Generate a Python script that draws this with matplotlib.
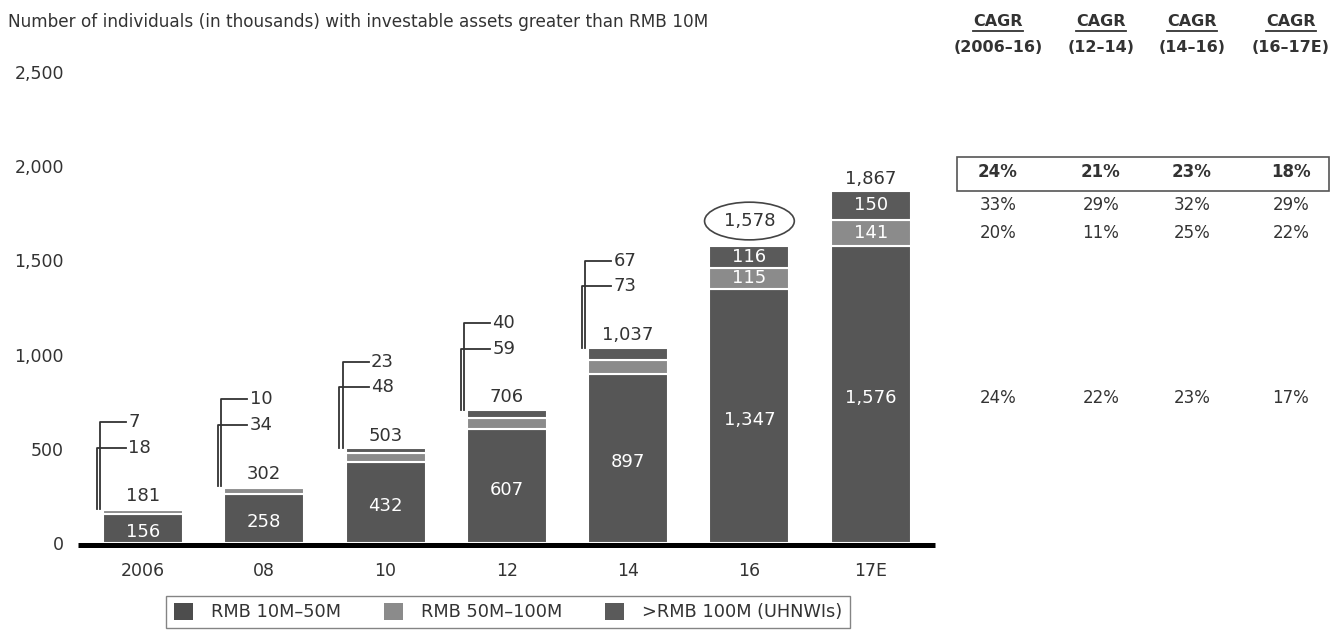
import matplotlib.pyplot as plt
from matplotlib.patches import Ellipse, Patch, Rectangle
from matplotlib.lines import Line2D
import matplotlib.transforms as mtransforms

plt.rcParams['font.family'] = ['DejaVu Sans']

years = ['2006', '08', '10', '12', '14', '16', '17E']
rmb_10_50 = [156, 258, 432, 607, 897, 1347, 1576]
rmb_50_100 = [18, 34, 48, 59, 73, 115, 141]
rmb_100_plus = [7, 10, 23, 40, 67, 116, 150]
totals = [181, 302, 503, 706, 1037, 1578, 1867]

cagr_headers = ['(2006\u201316)', '(12\u201314)', '(14\u201316)', '(16\u201317E)']
cagr_total = ['24%', '21%', '23%', '18%']
cagr_100_plus = ['33%', '29%', '32%', '29%']
cagr_50_100 = ['20%', '11%', '25%', '22%']
cagr_10_50 = ['24%', '22%', '23%', '17%']

legend_labels = ['RMB 10M\u201350M', 'RMB 50M\u2013100M', '>RMB 100M (UHNWIs)']

W, H = 1332, 633
TXT = '#333333'
C_LOW, C_MID, C_TOP = '#565656', '#8b8b8b', '#5a5a5a'


def fx(x):
    return x / W


def fy(y):
    return 1 - y / H


fig = plt.figure(figsize=(W / 100, H / 100), dpi=100)
ax = fig.add_axes([fx(78), fy(543), fx(935) - fx(78), fy(72) - fy(543)])

xs = list(range(len(years)))
bw = 0.66
bottoms_mid = rmb_10_50
bottoms_top = [a + b for a, b in zip(rmb_10_50, rmb_50_100)]
ax.bar(xs, rmb_10_50, width=bw, color=C_LOW, edgecolor='white', linewidth=1.5, zorder=2)
ax.bar(xs, rmb_50_100, bottom=bottoms_mid, width=bw, color=C_MID, edgecolor='white', linewidth=1.5, zorder=2)
ax.bar(xs, rmb_100_plus, bottom=bottoms_top, width=bw, color=C_TOP, edgecolor='white', linewidth=1.5, zorder=2)

# thick baseline under the bars
ax.plot([-0.536, 6.53], [-10, -10], color='black', linewidth=3.6, zorder=3,
        clip_on=False, solid_capstyle='butt')

ax.set_xlim(-0.536, 6.53)
ax.set_ylim(0, 2500)
for s in ax.spines.values():
    s.set_visible(False)
ax.set_yticks([0, 500, 1000, 1500, 2000, 2500])
ax.set_yticklabels(['0', '500', '1,000', '1,500', '2,000', '2,500'], fontsize=12.5, color=TXT)
ax.set_xticks(xs)
ax.set_xticklabels(years, fontsize=12.5, color=TXT)
ax.tick_params(axis='y', length=0, pad=10)
ax.tick_params(axis='x', length=0, pad=14)

# value labels
for i in xs:
    ax.text(i, rmb_10_50[i] / 2 - 20, f'{rmb_10_50[i]:,}', ha='center', va='center',
            color='white', fontsize=13, zorder=4)
    if i >= 5:
        ax.text(i, bottoms_mid[i] + rmb_50_100[i] / 2, f'{rmb_50_100[i]:,}', ha='center',
                va='center', color='white', fontsize=13, zorder=4)
        ax.text(i, bottoms_top[i] + rmb_100_plus[i] / 2, f'{rmb_100_plus[i]:,}', ha='center',
                va='center', color='white', fontsize=13, zorder=4)
    off = 18 if i == 5 else 9
    ax.annotate(f'{totals[i]:,}', (i, totals[i]), xytext=(0, off), textcoords='offset points',
                ha='center', va='center', fontsize=13, color=TXT)

# circled total for 2016
ax.add_patch(Ellipse((5, totals[5] + 131), 0.74, 200, fill=False, edgecolor='#444444',
                     linewidth=1.2, zorder=4))

# bracket callouts for the small segments
for i in range(5):
    y_low = totals[i] + 325
    y_up = totals[i] + 460
    left = i - bw / 2
    ax.plot([left - 0.05, left - 0.05, left + 0.19], [totals[i], y_low, y_low],
            color='#333333', linewidth=1.3, zorder=3)
    ax.plot([left - 0.025, left - 0.025, left + 0.19], [totals[i], y_up, y_up],
            color='#333333', linewidth=1.3, zorder=3)
    ax.text(left + 0.21, y_low, f'{rmb_50_100[i]}', ha='left', va='center', fontsize=13, color=TXT)
    ax.text(left + 0.21, y_up, f'{rmb_100_plus[i]}', ha='left', va='center', fontsize=13, color=TXT)

fig.text(fx(8), fy(22), 'Number of individuals (in thousands) with investable assets greater than RMB 10M',
         ha='left', va='center', fontsize=12.2, color=TXT)

# CAGR table on the right, rows follow the 17E bar segments
col_x = [998, 1101, 1192, 1291]
tr = mtransforms.blended_transform_factory(fig.transFigure, ax.transData)
row_y = [1867 + 100, bottoms_top[6] + rmb_100_plus[6] / 2,
         bottoms_mid[6] + rmb_50_100[6] / 2, rmb_10_50[6] / 2 - 20]
rows = [cagr_total, cagr_100_plus, cagr_50_100, cagr_10_50]

head_texts = []
for j, cx in enumerate(col_x):
    t = fig.text(fx(cx), fy(22), 'CAGR', ha='center', va='center', fontsize=11.5,
                 fontweight='bold', color=TXT)
    head_texts.append(t)
    fig.text(fx(cx), fy(47), cagr_headers[j], ha='center', va='center', fontsize=11.5,
             fontweight='bold', color=TXT)
    for r, vals in enumerate(rows):
        ax.text(fx(cx), row_y[r], vals[j], transform=tr, ha='center', va='center',
                fontsize=12, color=TXT, fontweight='bold' if r == 0 else 'normal')

fig.add_artist(Rectangle((fx(957), fy(191)), fx(1329) - fx(957), fy(157) - fy(191),
                         transform=fig.transFigure, fill=False, edgecolor='#555555', linewidth=1.2))

fig.canvas.draw()
renderer = fig.canvas.get_renderer()
for t in head_texts:
    bb = t.get_window_extent(renderer).transformed(fig.transFigure.inverted())
    fig.add_artist(Line2D([bb.x0, bb.x1], [bb.y0 - 0.002, bb.y0 - 0.002], transform=fig.transFigure,
                          color=TXT, linewidth=1.3))

handles = [Patch(facecolor=c, edgecolor='none') for c in ['#4d4d4d', '#8b8b8b', '#5a5a5a']]
leg = fig.legend(handles, legend_labels, loc='center', bbox_to_anchor=(fx(508), fy(612)), ncol=3,
                 frameon=True, fancybox=False, edgecolor='#666666', fontsize=12.8,
                 handlelength=1.1, handleheight=1.1, columnspacing=2.4, handletextpad=1.0,
                 borderpad=0.4, labelcolor=TXT)
leg.get_frame().set_linewidth(1.0)

fig.savefig('out.png', dpi=100)
